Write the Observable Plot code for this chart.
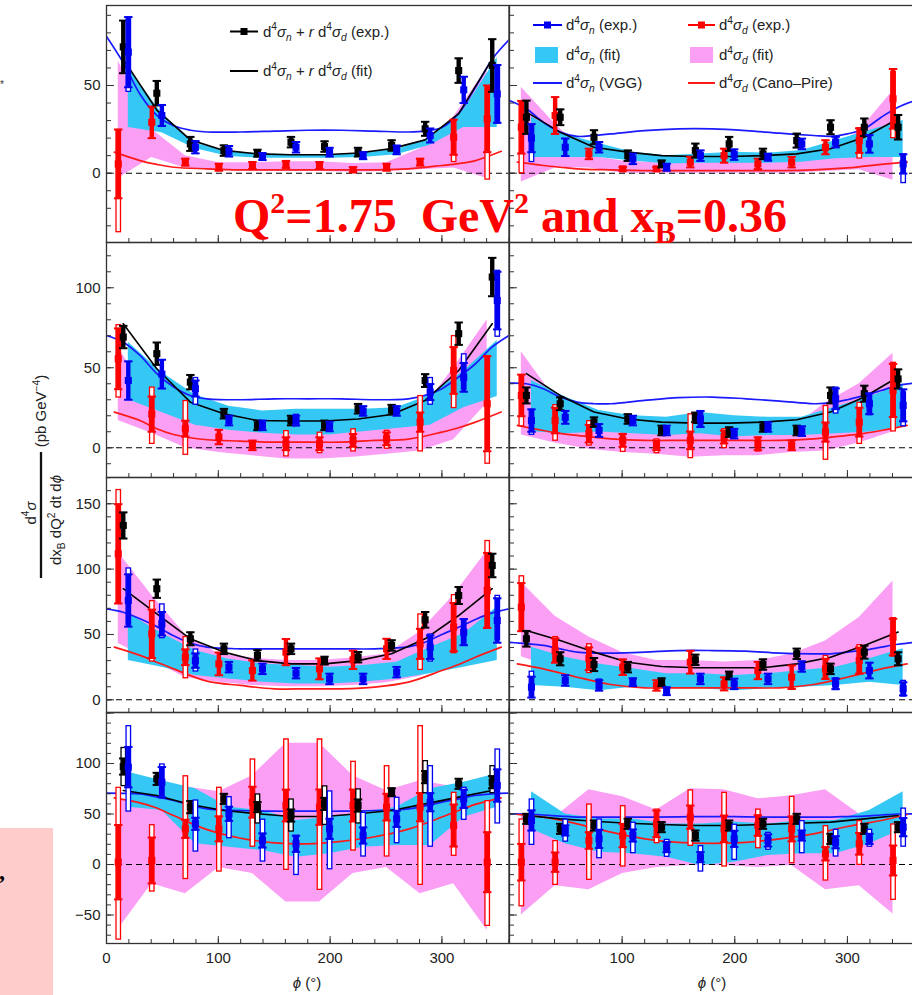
<!DOCTYPE html>
<html>
<head>
<meta charset="utf-8">
<script src="https://cdn.jsdelivr.net/npm/d3@7"></script>
<script src="https://cdn.jsdelivr.net/npm/@observablehq/plot@0.6"></script>
<style>
html,body{margin:0;padding:0;background:#fff;overflow:hidden;}
#wrap{position:relative;width:912px;height:995px;overflow:hidden;background:#fff;}
.cell{position:absolute;}
#overlay{position:absolute;left:0;top:0;pointer-events:none;}
</style>
</head>
<body>
<div id="wrap"></div>
<script>
// ---------------- data ----------------
const _ = null;
const none = Array(12).fill(null);
const phiBins = [15, 45, 75, 105, 135, 165, 195, 225, 255, 285, 315, 345];
const shiftD = -4.5, shiftN = 4.5;           // horizontal offsets of d and n points
// panels: 0 L1, 1 R1, 2 L2, 3 R2, 4 L3, 5 R3, 6 L4, 7 R4
const rowDomains = [[-39.5, 95.6], [-18.6, 128.3], [-9.7, 170.1], [-78.2, 150.5]];
const yMajor = [-50, 0, 50, 100, 150];
const xMinor = [0, 20, 40, 60, 80, 100, 120, 140, 160, 180, 200, 220, 240, 260, 280, 300, 320, 340, 360];
const xMajor = [0, 100, 200, 300];
const xLabelsLeft = [0, 100, 200, 300];
const xLabelsRight = [100, 200, 300];

// d4sigma_n + r d4sigma_d (exp.)
const sumExp = [
  [72, 45.6, 16.7, 12.9, 11.4, 17.7, 15.2, 12, 15.8, 25.3, 58.5, 61.4],
  [31.9, 31.9, 20.5, 10, 5.3, 12.9, 16.7, 11, 18.6, 26.2, 26.2, 26.2],
  [69.2, 58.8, 41, 21.3, 14, 17, 14, 24.4, 23.8, 42, 71.3, 106.7],
  [32.7, 27.5, 16, 18, 10.8, 19, 9.8, 13, 10.8, 32.7, 33.8, 43],
  [133.4, 85, 46.7, 39, 34, 39, 30, 32.6, 41.6, 61.2, 79.8, 102.8],
  [46.7, 31.4, 27, 25, 13.5, 30.6, 18.6, 27, 35.2, 23.7, 36.5, 31.4],
  [97, 84.8, 56.8, 65, 56.8, 48.5, 60, 58.4, 71.6, 86.5, 79.9, 81.5],
  [45.2, 35.3, 38.6, 40.3, 37, 28.7, 38.6, 40.3, 45.2, 25.4, 35.3, 37]
];
const sumStat = [
  [15, 7, 4, 3, 2, 3, 3, 2.5, 3, 4, 7, 15],
  [9.5, 4.5, 4, 3, 2, 4, 4, 3, 4, 4, 5, 7],
  [7, 7, 4.5, 3, 3, 3, 3, 3, 3, 4, 7, 12],
  [5, 4, 3, 3, 3, 3, 3, 3, 3, 5, 5, 6],
  [10, 7, 5, 4, 4, 4, 3, 4, 4, 6, 6.5, 9],
  [6, 5, 5, 4, 3, 4, 3, 4, 4, 4, 5, 5],
  [8, 6, 6, 5, 5, 6, 6, 6, 4, 6, 5, 6],
  [5, 5, 5, 5, 5, 5, 5, 5, 5, 5, 5, 5]
];
const sumSysLo = [none, none, none, none, none, none, [77, _, _, _, 40, 32, 38.6, 40, _, 70, _, 70], none];
const sumSysHi = [none, none, none, none, none, none, [116, _, _, _, 70, 65, 78, 75, _, 103, _, 98], none];

// d4sigma_n (exp.)
const nExp = [
  [69, 32.9, 14.8, 12.5, 9.5, 14.8, 12, 10, 13.3, 21.5, 47.5, 45.2],
  [20, 14.8, 14.8, 8.2, 3.4, 10, 10.6, 9.1, 16.7, 17.7, 16.7, 5.3],
  [42, 46, 37, 17, 14, 17, 13.3, 23, 23, 34.8, 44, 92],
  [17, 19, 10.8, 17, 10.8, 18, 8.8, 13, 10.4, 30.6, 27.5, 26.5],
  [76, 58.2, 30, 25, 23.7, 20.4, 16, 16, 21.2, 40.3, 51.8, 60.7],
  [9.7, 14.8, 11, 13.5, 6.6, 16, 12.2, 16, 25.5, 12.2, 22.4, 8.4],
  [96.4, 81.5, 40.3, 50.2, 23.8, 20.5, 35.3, 28.7, 45.2, 61.7, 65, 78.2],
  [43.6, 33.7, 25.4, 28.7, 17.2, 7.3, 25.4, 23.8, 28.7, 22, 25.4, 37]
];
const nStat = [
  [20, 6, 3.5, 3, 2, 3, 2.5, 2, 2.5, 4, 7.5, 16.5],
  [8, 5, 3, 3, 2, 3, 3, 2, 3, 3, 5, 5.5],
  [12, 9, 5, 3, 3, 3, 3, 3, 3, 5, 9, 18],
  [7, 4, 4, 3, 3, 5, 3, 3, 3, 6.5, 6.5, 10],
  [20, 9, 5.5, 4, 4, 4, 4, 4, 4, 9, 10, 17],
  [8, 4, 4, 3, 3, 4, 4, 4, 4, 4, 6, 5],
  [20, 15, 6, 7, 7, 8, 10, 8, 8, 9, 9, 16],
  [10, 5, 9, 6, 5, 5, 8, 6, 5, 6, 5, 9]
];
const nSysLo = [
  [46, _, _, _, _, _, _, _, _, _, _, 28],
  [6, _, _, _, _, _, _, _, _, _, _, -6],
  [_, _, 26.5, _, _, 13, _, _, _, 26.5, 36, 69],
  [7.7, _, _, _, _, 12, _, _, _, 21, 20, 13],
  [57, 46.7, 21.2, _, _, _, _, _, _, 28.8, 41, 45],
  [2, _, 7, _, _, _, _, _, _, 7, _, 2],
  [51.8, 65, 12.2, 25.4, 2.3, -11, -5.3, 7.3, 20.5, 17, 43.6, 40],
  [18.8, 22, 5.6, 10.6, 7, -7.6, 4, 14, 10.6, 7.3, 17, 17]
];
const nSysHi = [
  [88, _, _, _, _, _, _, _, _, _, _, 62],
  [28, _, _, _, _, _, _, _, _, _, _, 11],
  [_, _, 44, _, _, 21, _, _, _, 44, 58.8, 111],
  [24, _, _, _, _, 23, _, _, _, 38, 34, 35],
  [101, 73.5, 39, _, _, _, _, _, _, 50.5, 62, 80],
  [22, _, 16, _, _, _, _, _, _, 17, _, 15],
  [137.6, 99.7, 64, 67.3, 45, 29, 73, 51.8, 66.7, 98, 76.6, 114.5],
  [65, 45, 45.2, 42, 25, 18.8, 40, 32, 43.6, 35, 35, 56]
];

// d4sigma_d (exp.)
const dExp = [
  [5.3, 29, 6.3, 3.4, 4.4, 5, 4.4, 2, 3.4, 6.3, 20.5, 31],
  [26.2, 32.9, 11, 2.5, 2.5, 6.3, 10, 5.3, 6.3, 14.8, 18.6, 42.4],
  [55.6, 21, 11.9, 6.7, 1.5, 2.5, 2.5, 4.6, 5.6, 16, 48.3, 27.5],
  [32.7, 17, 8.8, 4.6, 1.5, 4.6, 6.7, 2.5, 1.5, 9.8, 16, 35.8],
  [111.7, 50.5, 32.6, 27.5, 22.4, 36.5, 23.7, 30.6, 39, 42.8, 55.6, 83.7],
  [70.9, 37.7, 31.4, 25, 11, 28.8, 12.2, 22.4, 17.3, 23.7, 30, 48],
  [2.3, 4, 35.3, 35.3, 61.7, 58.4, 56.8, 58.4, 56.8, 56.8, 38.6, 2.3],
  [2.3, 2.3, 23.8, 28.7, 40.3, 46.9, 35.3, 38.6, 35.3, 10.6, 20.5, 4]
];
const dStat = [
  [19.6, 9, 2, 2, 2, 2, 2, 1.5, 2, 2, 10, 19],
  [15, 10.5, 3, 1, 1, 3, 4, 3, 3, 4, 7, 17],
  [19, 11, 5, 4.5, 3, 4, 4, 4, 4, 6, 14.6, 29.7],
  [13, 8, 5.5, 4, 3, 5.5, 4, 4, 3, 6, 9, 16.6],
  [38, 18.5, 6, 8.7, 7.7, 10, 8, 7, 7.7, 11.5, 18.5, 28.7],
  [18.4, 9.3, 8.7, 6, 4, 8.7, 5, 6.6, 9, 7.7, 10, 14],
  [36.8, 22.7, 9, 12.4, 15.3, 15.7, 17.5, 15.8, 13.2, 14, 20.8, 29.7],
  [18.1, 9.6, 8.2, 11.5, 13.2, 11.5, 13.2, 10.2, 12.4, 6.6, 10.7, 14.8]
];
const dSysLo = [
  [-34, _, _, _, _, _, _, _, _, _, 6, -4],
  [-0.4, _, _, _, _, _, _, _, _, _, 8, 19.6],
  [31, 2, -4.8, _, _, -5.8, -3.8, -2.7, -1, -2.7, 24.4, -10.4],
  [13, 4, 1, -3, -3.8, -6.9, -0.6, -2.7, _, -7.9, 2, 9.8],
  [73.5, 28.8, 16, _, _, _, _, _, _, 22.4, 35.2, 54],
  [52, 28, 20, _, _, _, _, _, _, 14.8, 20, 32.6],
  [-75, -27.4, -15, -7.6, 17, -5.9, -25.7, 13.2, 7.3, -20.8, 8, -61.4],
  [-42, -20.8, -15.8, -2.6, 20.5, 17.8, -2.6, 15.5, 0.7, -16.5, -1, -35.6]
];
const dSysHi = [
  [25, _, _, _, _, _, _, _, _, _, 30, 49],
  [41, _, _, _, _, _, _, _, _, _, 26, 58],
  [77, 38, 29.6, _, _, 10.8, 9.8, 11.9, 11, 32.7, 70.2, 57.7],
  [45, 27, 17, 9, 5.6, 21.3, 12, 6.7, _, 26.5, 28.5, 53.5],
  [161, 76, 48.5, _, _, _, _, _, _, 65.8, 80.6, 122],
  [95, 48.5, 43, _, _, _, _, _, _, 34, 42.3, 63],
  [76.6, 39.6, 88, 76.6, 104.6, 124.4, 124.4, 102.3, 98, 137.6, 71.6, 63.4],
  [45.2, 23.8, 60, 58.4, 55, 74, 71.6, 55, 67.6, 38.6, 43.6, 40.3]
];

// d4sigma_n + r d4sigma_d (fit)
const sumFit = [
  [65, 36, 19, 13, 11, 10.5, 10.5, 11.5, 14, 19, 34, 65],
  [34.8, 23.4, 14.8, 12, 10, 9.5, 9.5, 10, 11, 13.9, 20.5, 31],
  [77.5, 49.4, 28.5, 21.3, 17, 16.7, 16.7, 18, 20.8, 29.6, 48.3, 77.5],
  [46.3, 32.7, 22.3, 18, 16, 15.4, 15.4, 16, 17.5, 22.3, 31.7, 44.2],
  [85, 65.8, 46.7, 36.5, 30, 27.5, 27.5, 30, 35.2, 46.7, 64.5, 85],
  [53, 45.4, 36.5, 28.8, 25.5, 24.5, 24.5, 24.5, 27.5, 32.6, 41.6, 51.8],
  [73.3, 68.3, 59.4, 53.5, 50.2, 47.5, 47.5, 50.2, 53.5, 60, 66.7, 73.3],
  [48.5, 45.2, 42.9, 40.9, 39.6, 38.6, 38.6, 39.6, 40.9, 42, 45.2, 48.5]
];
// d4sigma_n (fit) band
const nFitLo = [
  [26, 23, 14, 9.5, 8.5, 8.5, 8.5, 9, 10.5, 16, 26, 26],
  [9, 9, 9, 7, 5.3, 5.7, 5.7, 5.7, 6.3, 8.2, 9, 9],
  [30, 22, 14, 11, 9, 8, 8, 10, 12, 14, 25, 32],
  [10, 8.8, 9.8, 8.8, 7.7, 8.8, 6.7, 7.7, 7.7, 8.8, 9.8, 13],
  [30, 25, 18.6, 16, 13.5, 12.2, 12.2, 13.5, 16, 20, 25, 30],
  [11, 9.7, 7, 9.7, 8.4, 8.4, 7, 8.4, 9.7, 11, 13.5, 11],
  [56.8, 53.5, 20.5, 17, 13.9, 7.3, 10.6, 17, 18.8, 18.8, 46.9, 56.8],
  [35, 20.5, 12.2, 10.6, 7.3, -1, 2.3, 9, 10.6, 10.6, 20.5, 35]
];
const nFitHi = [
  [60, 34, 17, 12.5, 11, 10.5, 10.5, 11.5, 13.5, 20, 36, 66],
  [32, 22, 17, 12, 10, 11, 12, 11.4, 13, 18.6, 24.3, 30],
  [66, 47, 33, 26, 23, 24, 24, 24, 25, 33, 48, 67],
  [42, 31.7, 23.3, 20, 19, 22, 20, 19, 19, 25.4, 31.7, 40],
  [66, 51, 37.7, 31, 27.5, 26.3, 25, 26.3, 28.8, 40, 50.5, 71],
  [40.3, 32.6, 27.5, 23.7, 20, 20, 18.6, 20, 22.4, 25, 31.4, 39],
  [91.4, 83, 75, 56.8, 53.5, 43.6, 46.9, 51.8, 56.8, 75, 81.5, 89.8],
  [72, 50, 45, 45, 40, 40, 42, 40, 43.6, 43.6, 53.5, 72]
];
// d4sigma_d (fit) band
const dFitLo = [
  [-3, 9, 3, 1.5, 1, 1, 1, 0.5, 1, 2, 3, -3],
  [-5, 3, 3, 0, 0, 0, 0, 0, 0, 1, 2, -4],
  [17, 9, 0, -3, -5, -7, -7, -6, -4, -2, 5, 28],
  [8, 3, -1, -3, -4, -6, -5, -5, -3, -2, 3, 10],
  [43, 30, 17, 13.5, 11, 10, 10, 11, 13, 18, 30, 44],
  [33, 24, 20, 18, 17, 16, 15, 16, 18, 20, 22, 35],
  [-64, -19, -29, -3, -9, -37, -37, -9, -3, -29, -19, -65],
  [-50, -21, -25, -9, -3, -1, -1, -3, -1, -25, -21, -49]
];
const dFitHi = [
  [64, 25, 10, 6, 6, 6.5, 6.5, 5.5, 6, 14, 32, 60],
  [49, 28, 10, 7, 6, 7, 7.5, 7, 7, 12, 24, 47],
  [63, 28, 21, 14, 12, 11, 11, 12, 14, 22, 50, 80],
  [60, 31, 20, 14, 12, 13, 12, 12, 12, 28, 40, 59],
  [113, 80, 50, 35, 32, 30, 30, 32, 35, 52, 80, 114],
  [90, 64, 48, 36, 30, 30, 29, 30, 35, 45, 63, 91],
  [65, 55, 77, 72, 88, 120, 120, 88, 73, 83, 77, 65],
  [50, 47, 74, 67, 54, 75, 74, 65, 68, 74, 50, 50]
];
// d4sigma_n (VGG)
const vggPhi = [0, 15, 30, 45, 60, 75, 90, 120, 150, 180, 210, 240, 270, 285, 300, 315, 330, 345, 360];
const vgg = [
  [78, 63, 45, 33, 27, 24.5, 23.5, 23.5, 24, 24.5, 24.5, 24, 23.5, 24, 26, 34, 49, 65, 76],
  [41.4, 36.7, 29, 23.4, 21, 21.5, 22.4, 24.3, 25.3, 25.3, 24.3, 22.8, 21.5, 21, 22.4, 25.3, 31.9, 37.6, 41.4],
  [70.2, 66, 57.7, 46.3, 38, 32.7, 30.6, 30, 30.6, 30.6, 30.6, 30, 30.6, 32.7, 36.9, 44.2, 52.5, 63, 70.2],
  [40.4, 40, 36.9, 31.7, 28.5, 27.5, 27.5, 29.6, 31.3, 31.7, 30.6, 29.2, 27.5, 28, 30, 32.7, 35.8, 39, 40.4],
  [69.6, 67, 62, 56, 49, 43.4, 40.3, 39, 39, 39, 39, 39, 40.5, 44, 50, 55.5, 61.5, 66.5, 69.6],
  [44, 43, 41.6, 39, 36.5, 35.8, 35.7, 36.5, 37.7, 37.7, 37.2, 35.7, 35.2, 35.2, 36.5, 38, 40.3, 42.5, 44],
  [70.6, 70.5, 70, 67, 63.4, 59, 55, 53.5, 52.8, 52.8, 52.8, 53.5, 55, 58, 61.7, 65, 68.3, 70, 70.6],
  [50.2, 50, 49, 48, 46.9, 46.9, 46.9, 46.9, 47.2, 47.5, 47.2, 46.9, 46.9, 47, 47.5, 48, 49, 50, 50.2]
];
// d4sigma_d (Cano-Pire)
const canoPhi = [7, 30, 45, 60, 90, 120, 150, 180, 210, 240, 270, 300, 315, 330, 353];
const cano = [
  [12, 7.2, 5, 3.4, 2.5, 1.9, 1.9, 1.9, 1.9, 1.9, 2.5, 4.4, 5.5, 7.2, 12.5],
  [6.3, 4.4, 3.4, 2.5, 1.9, 1.5, 1.5, 1.5, 1.5, 1.5, 1.9, 3, 4, 5, 6.3],
  [22.3, 17, 11.9, 8.3, 5, 4.2, 3.5, 3.5, 3.5, 4.6, 5.4, 9.8, 12.5, 16, 22.3],
  [14, 10.8, 9, 7.7, 5.6, 4.6, 4.6, 4.6, 4.6, 4.6, 5.6, 7.7, 9, 10.8, 14],
  [40.3, 34, 28.8, 23.7, 14.3, 11, 8.4, 8.4, 8.4, 9.7, 13.5, 22.4, 27, 32.6, 40.3],
  [27.5, 23.7, 20.5, 17.3, 11.7, 9.2, 9.2, 9.2, 9.2, 9.2, 11.7, 17.3, 20.5, 23.7, 27.5],
  [66, 61, 56, 48.5, 34.5, 26, 21.5, 20.5, 23, 27.5, 35, 47, 53.5, 59.5, 66],
  [49.5, 46.9, 44, 40.3, 32, 25.4, 22, 21, 22, 25.4, 30.4, 37.6, 40.5, 43.6, 49.5]
];

// ---------------- style / layout ----------------
const blueC = "#0000f0", redC = "#ff0000", cyanC = "#36c8f4", pinkC = "#fb9ff5";
const vggC = "#1a1aff", canoC = "#ff1a1a";
const fontFam = "'Liberation Sans', Arial, Helvetica, sans-serif";
const colLeft = [106, 508.5], colWidth = [402.5, 405.5];
const rowTop = [5, 242, 477, 712], rowHeight = [237, 235, 235, 231];

const cap = {draw(ctx, size) { const w = Math.sqrt(size / Math.PI); ctx.moveTo(-w, 0); ctx.lineTo(w, 0); }};
const fmt = d => d < 0 ? "\u2212" + (-d) : String(d);

function points(p, vals, stat, lo, hi, shift) {
  return phiBins.map((phi, k) => ({x: phi + shift, v: vals[p][k], s: stat[p][k], lo: lo[p][k], hi: hi[p][k]}));
}
function band(p, lo, hi, shift) {
  return phiBins.map((phi, k) => ({x: phi + shift, lo: lo[p][k], hi: hi[p][k]}));
}
function seriesMarks(data, color) {
  const boxes = data.filter(d => d.lo != null && d.hi != null);
  return [
    Plot.ruleX(boxes, {x: "x", y1: "hi", y2: "lo", stroke: color, strokeWidth: 5.8}),
    Plot.ruleX(boxes, {x: "x", y1: "hi", y2: "lo", stroke: "white", strokeWidth: 3.2, insetTop: 1.3, insetBottom: 1.3}),
    Plot.ruleX(data, {x: "x", y1: d => d.v + d.s, y2: d => d.v - d.s, stroke: color, strokeWidth: 4.4}),
    Plot.dot(data, {x: "x", y: d => d.v - d.s, symbol: cap, r: 4.2, stroke: color, fill: "none", strokeWidth: 2}),
    Plot.dot(data, {x: "x", y: d => d.v + d.s, symbol: cap, r: 4.2, stroke: color, fill: "none", strokeWidth: 2}),
    Plot.dot(data, {x: "x", y: "v", symbol: "square", r: 4, fill: color, stroke: "none"})
  ];
}

const wrap = document.getElementById("wrap");
for (let row = 0; row < 4; row++) for (let col = 0; col < 2; col++) {
  const p = row * 2 + col;
  const [ylo, yhi] = rowDomains[row];
  const minorY = d3.range(Math.ceil(ylo / 10) * 10, yhi, 10);
  const majorY = yMajor.filter(v => v >= ylo && v <= yhi);
  const labelY = yMajor.filter(v => v >= ylo + 3 && v <= yhi - 3);
  const W = colWidth[col], H = rowHeight[row];
  const marks = [
    Plot.areaY(band(p, dFitLo, dFitHi, shiftD), {x: "x", y1: "lo", y2: "hi", fill: pinkC, clip: true}),
    Plot.areaY(band(p, nFitLo, nFitHi, shiftN), {x: "x", y1: "lo", y2: "hi", fill: cyanC, clip: true}),
    Plot.ruleY([0], {stroke: "#000", strokeWidth: 1.1, strokeDasharray: "6,4"}),
    Plot.line(vggPhi.map((phi, k) => ({phi, v: vgg[p][k]})), {x: "phi", y: "v", stroke: vggC, strokeWidth: 1.7, curve: "catmull-rom", clip: true}),
    Plot.line(canoPhi.map((phi, k) => ({phi, v: cano[p][k]})), {x: "phi", y: "v", stroke: canoC, strokeWidth: 1.7, curve: "catmull-rom", clip: true}),
    Plot.line(phiBins.map((phi, k) => ({phi, v: sumFit[p][k]})), {x: "phi", y: "v", stroke: "#000", strokeWidth: 1.6, clip: true}),
    ...seriesMarks(points(p, dExp, dStat, dSysLo, dSysHi, shiftD), redC),
    ...seriesMarks(points(p, sumExp, sumStat, sumSysLo, sumSysHi, 0), "#000"),
    ...seriesMarks(points(p, nExp, nStat, nSysLo, nSysHi, shiftN), blueC),
    Plot.axisY(minorY, {anchor: "left", tickSize: -5, tickFormat: () => "", label: null, stroke: "#333"}),
    Plot.axisY(majorY, {anchor: "left", tickSize: -8, tickFormat: () => "", label: null, stroke: "#333"}),
    Plot.axisX(xMinor, {anchor: "bottom", tickSize: -4, tickFormat: () => "", label: null, stroke: "#333"}),
    Plot.axisX(xMajor, {anchor: "bottom", tickSize: -7, tickFormat: () => "", label: null, stroke: "#333"}),
    Plot.frame({stroke: "#333", strokeWidth: 1.3})
  ];
  if (col === 0) marks.push(Plot.axisY(labelY, {anchor: "left", tickSize: 0, tickPadding: 6, label: null, tickFormat: fmt}));
  if (row === 3) marks.push(Plot.axisX(col === 0 ? xLabelsLeft : xLabelsRight, {anchor: "bottom", tickSize: 0, tickPadding: 9, label: null, tickFormat: fmt}));
  const chart = Plot.plot({
    width: W, height: H, margin: 0,
    x: {domain: [0, 360]},
    y: {domain: [ylo, yhi]},
    style: {overflow: "visible", background: "transparent", fontFamily: fontFam, fontSize: "15px", color: "#222"},
    marks
  });
  const div = document.createElement("div");
  div.className = "cell";
  div.style.left = colLeft[col] + "px";
  div.style.top = rowTop[row] + "px";
  div.style.width = W + "px";
  div.style.height = H + "px";
  div.appendChild(chart);
  wrap.appendChild(div);
}

// ---------------- overlay: legends, labels, title ----------------
const svg = d3.select(wrap).append("svg").attr("id", "overlay").attr("width", 912).attr("height", 995)
  .style("font-family", fontFam);

function rich(text, segs, fs) {
  let off = 0;
  for (const [t, kind] of segs) {
    const ts = text.append("tspan").text(t);
    let target = 0, size = fs;
    if (kind.includes("sup")) { target = -0.42 * fs; size = 0.68 * fs; }
    if (kind.includes("sub")) { target = 0.27 * fs; size = 0.68 * fs; }
    ts.attr("dy", target - off).attr("font-size", size);
    if (kind.includes("i")) ts.attr("font-style", "italic");
    off = target;
  }
}
const segN = s => [["d", ""], ["4", "sup"], ["\u03c3", "i"], ["n", "isub"], [" " + s, ""]];
const segD = s => [["d", ""], ["4", "sup"], ["\u03c3", "i"], ["d", "isub"], [" " + s, ""]];
const segSum = s => [["d", ""], ["4", "sup"], ["\u03c3", "i"], ["n", "isub"], [" + ", ""], ["r", "i"], [" d", ""], ["4", "sup"], ["\u03c3", "i"], ["d", "isub"], [" " + s, ""]];

function legLine(x1, x2, y, color, square) {
  svg.append("line").attr("x1", x1).attr("x2", x2).attr("y1", y).attr("y2", y).attr("stroke", color).attr("stroke-width", 2);
  if (square) svg.append("rect").attr("x", (x1 + x2) / 2 - 3.5).attr("y", y - 3.5).attr("width", 7).attr("height", 7).attr("fill", color);
}
function legText(x, y, segs) {
  const t = svg.append("text").attr("x", x).attr("y", y + 5).attr("font-size", 15).attr("fill", "#222");
  rich(t, segs, 15);
}
legLine(230, 258, 31.5, "#000", true); legText(263, 31.5, segSum("(exp.)"));
legLine(230, 258, 71, "#000", false); legText(263, 71, segSum("(fit)"));
legLine(533, 562, 25, blueC, true); legText(566, 25, segN("(exp.)"));
legLine(688, 715, 25, redC, true); legText(719, 25, segD("(exp.)"));
svg.append("rect").attr("x", 535).attr("y", 47).attr("width", 23).attr("height", 16).attr("fill", cyanC);
legText(566, 55, segN("(fit)"));
svg.append("rect").attr("x", 690).attr("y", 47).attr("width", 23).attr("height", 16).attr("fill", pinkC);
legText(719, 55, segD("(fit)"));
legLine(533, 562, 83, vggC, false); legText(566, 83, segN("(VGG)"));
legLine(688, 715, 83, canoC, false); legText(719, 83, segD("(Cano\u2013Pire)"));

// y-axis label (fraction)
const num = svg.append("text").attr("transform", "translate(35.5,513) rotate(-90)").attr("text-anchor", "middle").attr("font-size", 15).attr("fill", "#222");
rich(num, [["d", ""], ["4", "sup"], ["\u03c3", "i"]], 15);
svg.append("line").attr("x1", 41).attr("x2", 41).attr("y1", 452).attr("y2", 578).attr("stroke", "#111").attr("stroke-width", 2.3);
const den = svg.append("text").attr("transform", "translate(61,520) rotate(-90)").attr("text-anchor", "middle").attr("font-size", 15).attr("fill", "#222");
rich(den, [["dx", ""], ["B", "sub"], [" dQ", ""], ["2", "sup"], [" dt d", ""], ["\u03d5", "i"]], 15);
const unit = svg.append("text").attr("transform", "translate(46,411) rotate(-90)").attr("text-anchor", "middle").attr("font-size", 15).attr("fill", "#222");
rich(unit, [["(pb GeV", ""], ["\u22124", "sup"], [")", ""]], 15);

// x-axis labels
for (const cx of [307, 712]) {
  const t = svg.append("text").attr("x", cx).attr("y", 988).attr("text-anchor", "middle").attr("font-size", 15).attr("fill", "#222");
  rich(t, [["\u03d5", "i"], [" (\u00b0)", ""]], 15);
}

// slide artifacts at left edge
svg.insert("rect", ":first-child").attr("x", 0).attr("y", 828).attr("width", 53).attr("height", 167).attr("fill", "#ffcccc");
svg.append("text").attr("x", -1).attr("y", 879).attr("font-size", 24).attr("font-weight", "bold").attr("font-family", "'Liberation Serif', serif").attr("fill", "#000").text(",");
svg.append("text").attr("x", 0).attr("y", 88).attr("font-size", 10).attr("fill", "#333").text("*");

// red overlay title
const title = svg.append("text").attr("x", 233).attr("y", 232).attr("font-size", 48).attr("font-weight", "bold")
  .attr("font-family", "'Liberation Serif', 'Times New Roman', serif").attr("fill", "#ff0000").style("white-space", "pre");
(function () {
  const segs = [["Q", ""], ["2", "sup"], ["=1.75  GeV", ""], ["2", "sup"], [" and x", ""], ["B", "sub"], ["=0.36", ""]];
  let off = 0;
  for (const [t, kind] of segs) {
    const ts = title.append("tspan").text(t);
    let target = 0, size = 48;
    if (kind === "sup") { target = -19; size = 30; }
    if (kind === "sub") { target = 11; size = 32; }
    ts.attr("dy", target - off).attr("font-size", size);
    off = target;
  }
})();
</script>
</body>
</html>
